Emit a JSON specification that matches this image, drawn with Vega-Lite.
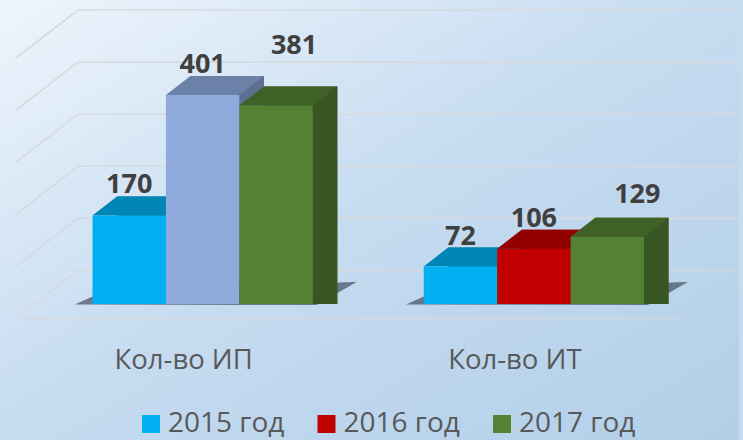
{
"$schema":"https://vega.github.io/schema/vega-lite/v6.json",
"width":743,"height":440,"padding":0,
"autosize":{"type":"fit","contains":"padding"},
"background":"#C5DBEF",
"config":{"view":{"stroke":null,"fill":{"gradient":"linear","x1":0,"y1":0,"x2":1,"y2":1,"stops":[{"offset":0,"color":"#EEF5FC"},{"offset":0.5,"color":"#C5DBF0"},{"offset":1,"color":"#B2CFE8"}]}},"font":"Open Sans"},
"datasets":{
"bars":[
{"cat":"Кол-во ИП","year":"2015 год","value":170},
{"cat":"Кол-во ИП","year":"2016 год","value":401},
{"cat":"Кол-во ИП","year":"2017 год","value":381},
{"cat":"Кол-во ИТ","year":"2015 год","value":72},
{"cat":"Кол-во ИТ","year":"2016 год","value":106},
{"cat":"Кол-во ИТ","year":"2017 год","value":129}],
"ticks":[{"tick":0},{"tick":100},{"tick":200},{"tick":300},{"tick":400},{"tick":500}],
"floor":[{"tick":0}]
},
"resolve":{"scale":{"color":"independent","xOffset":"independent"}},
"layer":[
{"data":{"name":"ticks"},
 "mark":{"type":"point","shape":"M371.5,-33.5L-291.5,-33.5L-353.5,14.5","size":4,"filled":false,"stroke":"#D6DADE","strokeWidth":1.6,"opacity":1},
 "encoding":{"y":{"field":"tick","type":"quantitative","scale":{"domain":[-261,583.5],"nice":false,"zero":false},"axis":null}}},
{"data":{"name":"floor"},
 "mark":{"type":"point","shape":"M-353.5,14.5L308.5,14.5","size":4,"filled":false,"stroke":"#D6DADE","strokeWidth":1.6,"opacity":1},
 "encoding":{"y":{"field":"tick","type":"quantitative","scale":{"domain":[-261,583.5],"nice":false,"zero":false},"axis":null}}},
{"data":{"name":"bars"},"transform":[{"filter":"datum.year==='2016 год'"}],
 "mark":{"type":"point","shape":"M-128,0.5L-100,-12L150,-22L154,-22L114,1Z","size":4,"filled":true,"color":"#2E3648","opacity":0.6},
 "encoding":{
  "x":{"field":"cat","type":"nominal","scale":{"range":[92.5,644],"paddingInner":0.335,"paddingOuter":0},
   "axis":{"title":null,"domain":false,"ticks":false,"labelAngle":0,"offset":-80,"labelPadding":0,"labelBaseline":"middle","labelFontSize":27.5,"labelColor":"#595959","labelFont":"Open Sans","labelFontWeight":"normal",
   "encoding":{"labels":{"dx":{"value":-19}}}}},
  "y":{"datum":0,"type":"quantitative","scale":{"domain":[-261,583.5],"nice":false,"zero":false}}}},
{"data":{"name":"bars"},
 "mark":{"type":"bar","yOffset":-19},
 "encoding":{
  "x":{"field":"cat","type":"nominal"},
  "xOffset":{"field":"year","type":"nominal","scale":{"range":[24.5,245],"paddingInner":0,"paddingOuter":0}},
  "y":{"field":"value","type":"quantitative","stack":null,"scale":{"domain":[-261,583.5],"nice":false,"zero":false}},
  "color":{"condition":{"test":"datum.cat==='Кол-во ИП' && datum.year==='2016 год'","value":"#5E708F"},"field":"year","type":"nominal","legend":null,"scale":{"domain":["2015 год","2016 год","2017 год"],"range":["#007AA6","#820000","#375623"]}}}},
{"data":{"name":"bars"},
 "mark":{"type":"point","shape":"M36.75,0L61.25,-19L36.75,-19Z","size":4,"filled":true,"opacity":1},
 "encoding":{
  "x":{"field":"cat","type":"nominal"},
  "xOffset":{"field":"year","type":"nominal"},
  "y":{"datum":0,"type":"quantitative","scale":{"domain":[-261,583.5],"nice":false,"zero":false}},
  "color":{"field":"year","type":"nominal","legend":null,"scale":{"domain":["2015 год","2016 год","2017 год"],"range":["#007AA6","#820000","#375623"]}}}},
{"data":{"name":"bars"},
 "mark":{"type":"point","shape":"M-36.75,0L36.75,0L61.25,-19L-12.25,-19Z","size":4,"filled":true,"opacity":1},
 "encoding":{
  "x":{"field":"cat","type":"nominal"},
  "xOffset":{"field":"year","type":"nominal"},
  "y":{"field":"value","type":"quantitative","scale":{"domain":[-261,583.5],"nice":false,"zero":false}},
  "color":{"condition":{"test":"datum.cat==='Кол-во ИП' && datum.year==='2016 год'","value":"#6C81A7"},"field":"year","type":"nominal","legend":null,"scale":{"domain":["2015 год","2016 год","2017 год"],"range":["#0086B4","#920000","#3F6127"]}}}},
{"data":{"name":"bars"},
 "mark":{"type":"bar"},
 "encoding":{
  "x":{"field":"cat","type":"nominal"},
  "xOffset":{"field":"year","type":"nominal"},
  "y":{"field":"value","type":"quantitative","stack":null,"scale":{"domain":[-261,583.5],"nice":false,"zero":false}},
  "color":{"condition":{"test":"datum.cat==='Кол-во ИП' && datum.year==='2016 год'","value":"#8FAADC"},"field":"year","type":"nominal","scale":{"domain":["2015 год","2016 год","2017 год"],"range":["#00B0F0","#C00000","#548235"]},
   "legend":{"orient":"none","legendX":137,"legendY":410,"padding":0,"direction":"horizontal","title":null,"symbolType":"square","symbolSize":324,"symbolStrokeWidth":0,"labelFontSize":28,"labelColor":"#595959","labelFont":"Open Sans","columnPadding":27.5,"labelOffset":3,"values":["2015 год","2016 год","2017 год"]}}}},
{"data":{"name":"bars"},"transform":[{"filter":"datum.year!=='2017 год'"}],
 "mark":{"type":"text","dy":-30,"fontSize":27,"fontWeight":"bold","color":"#404040","font":"Open Sans"},
 "encoding":{
  "x":{"field":"cat","type":"nominal"},
  "xOffset":{"field":"year","type":"nominal","scale":{"domain":["2015 год","2016 год","2017 год"]}},
  "y":{"field":"value","type":"quantitative","scale":{"domain":[-261,583.5],"nice":false,"zero":false}},
  "text":{"field":"value","type":"quantitative"}}},
{"data":{"name":"bars"},"transform":[{"filter":"datum.year==='2017 год' && datum.cat==='Кол-во ИП'"}],
 "mark":{"type":"text","dx":18,"dy":-60,"fontSize":27,"fontWeight":"bold","color":"#404040","font":"Open Sans"},
 "encoding":{
  "x":{"field":"cat","type":"nominal"},
  "xOffset":{"field":"year","type":"nominal","scale":{"domain":["2015 год","2016 год","2017 год"]}},
  "y":{"field":"value","type":"quantitative","scale":{"domain":[-261,583.5],"nice":false,"zero":false}},
  "text":{"field":"value","type":"quantitative"}}},
{"data":{"name":"bars"},"transform":[{"filter":"datum.year==='2017 год' && datum.cat==='Кол-во ИТ'"}],
 "mark":{"type":"text","dx":30,"dy":-42,"fontSize":27,"fontWeight":"bold","color":"#404040","font":"Open Sans"},
 "encoding":{
  "x":{"field":"cat","type":"nominal"},
  "xOffset":{"field":"year","type":"nominal","scale":{"domain":["2015 год","2016 год","2017 год"]}},
  "y":{"field":"value","type":"quantitative","scale":{"domain":[-261,583.5],"nice":false,"zero":false}},
  "text":{"field":"value","type":"quantitative"}}}
]
}
